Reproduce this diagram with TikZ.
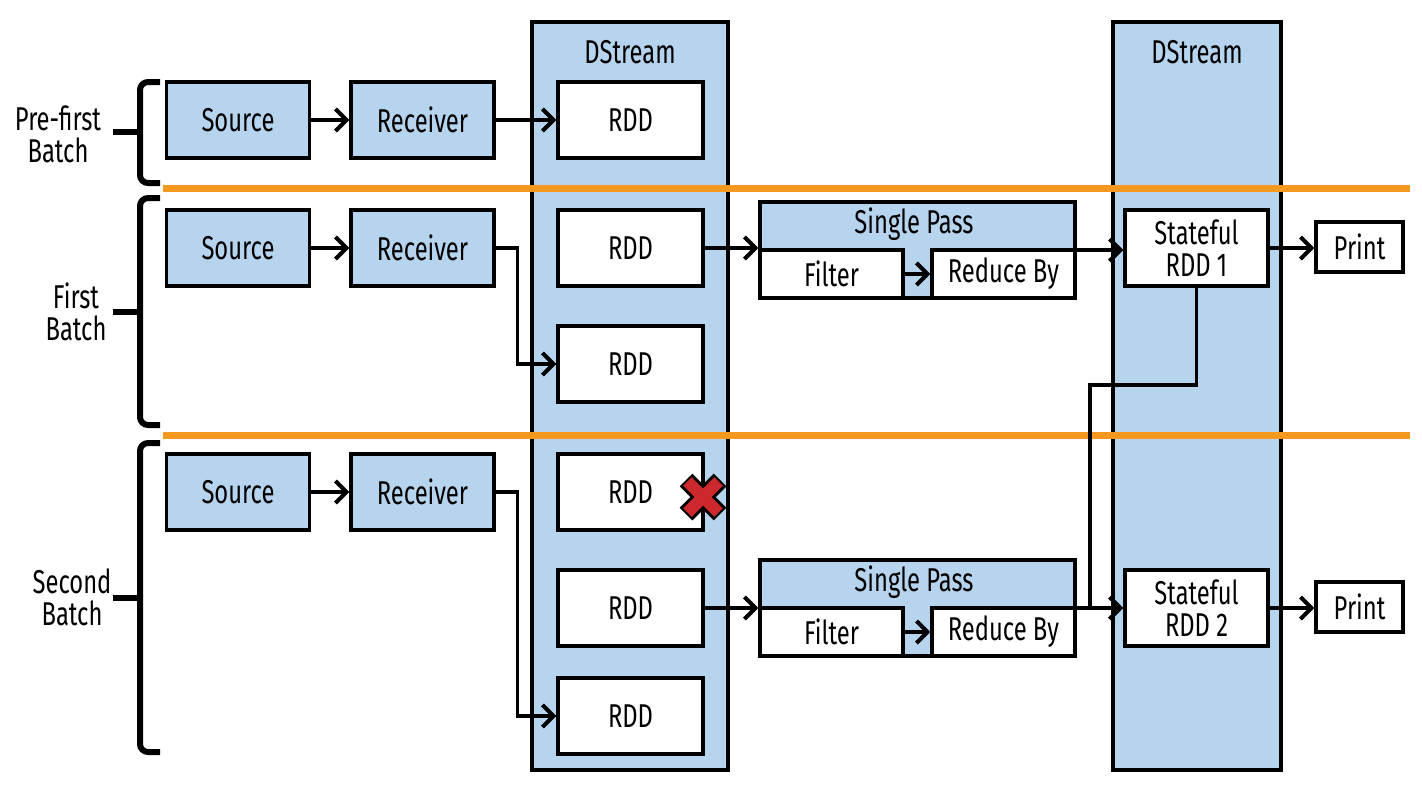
\documentclass[tikz,border=0pt]{standalone}
\usepackage{fontspec}
\setmainfont{Fira Sans}[FakeStretch=0.72]
\usetikzlibrary{arrows.meta}
\definecolor{sblue}{RGB}{182,212,238}
\definecolor{sorange}{RGB}{245,152,32}
\definecolor{sred}{RGB}{205,40,45}
\begin{document}
\begin{tikzpicture}[x=0.5pt,y=-0.5pt,
  every node/.style={font=\fontsize{16.5}{16}\selectfont, inner sep=0pt, align=center},
  bbox/.style={draw, line width=1.7pt, fill=sblue, minimum width=71.5pt, minimum height=38pt},
  wbox/.style={draw, line width=1.7pt, fill=white, minimum width=72.5pt, minimum height=38pt},
  colbox/.style={draw, line width=1.6pt, fill=sblue},
  passbox/.style={draw, line width=1.7pt, fill=sblue, minimum width=157.5pt, minimum height=48pt},
  inbox/.style={draw, line width=1.7pt, fill=white, minimum width=71.5pt, minimum height=24pt},
  prbox/.style={draw, line width=1.7pt, fill=white, minimum width=43.5pt, minimum height=25pt},
  conn/.style={line width=1.6pt, -{Straight Barb[length=5.5pt,width=11pt,line width=2pt]}},
  plain/.style={line width=1.6pt},
  brace/.style={line width=3pt, rounded corners=4pt},
  sep/.style={line width=3.5pt, sorange}]
\useasboundingbox (0,0) rectangle (1422,788);
% columns
\draw[colbox] (532,22) rectangle (728,770);
\draw[colbox] (1113,22) rectangle (1281,770);
\node (ds1) at (630,52) {DStream};
\node (ds2) at (1197,52) {DStream};
% orange separators
\draw[sep] (163,188) -- (1410,188);
\draw[sep] (163,435) -- (1410,435);
% braces
\draw[brace] (160,82) -- (140,82) -- (140,183) -- (160,183);
\draw[brace] (140,132) -- (113,132);
\draw[brace] (160,198) -- (140,198) -- (140,425) -- (160,425);
\draw[brace] (140,312) -- (113,312);
\draw[brace] (160,443) -- (140,443) -- (140,752) -- (160,752);
\draw[brace] (140,598) -- (113,598);
\node (lb1) at (58,134) {Pre-first\\Batch};
\node (lb2) at (76,312) {First\\Batch};
\node (lb3) at (72,597) {Second\\Batch};
% row 1
\node[bbox] (src1) at (238,120) {Source};
\node[bbox] (rcv1) at (422.5,120) {Receiver};
\node[wbox] (rdd1) at (630.5,120) {RDD};
% row 2
\node[bbox] (src2) at (238,248) {Source};
\node[bbox] (rcv2) at (422.5,248) {Receiver};
\node[wbox] (rdd2) at (630.5,248) {RDD};
\node[wbox] (rdd3) at (630.5,364) {RDD};
\node[passbox] (sp1) at (917.5,250) {};
\node (sp1t) at (914,224) {Single Pass};
\node[inbox] (fl1) at (831.5,274) {Filter};
\node[inbox] (rb1) at (1003.5,274) {Reduce By};
\node[wbox, minimum width=71.5pt] (st1) at (1196.5,248) {Stateful\\RDD 1};
\node[prbox] (pr1) at (1359.5,247) {Print};
% row 3
\node[bbox] (src3) at (238,492) {Source};
\node[bbox] (rcv3) at (422.5,492) {Receiver};
\node[wbox] (rdd4) at (630.5,492) {RDD};
\node[wbox] (rdd5) at (630.5,608) {RDD};
\node[wbox] (rdd6) at (630.5,716) {RDD};
\node[passbox] (sp2) at (917.5,608) {};
\node (sp2t) at (914,582) {Single Pass};
\node[inbox] (fl2) at (831.5,632) {Filter};
\node[inbox] (rb2) at (1003.5,632) {Reduce By};
\node[wbox, minimum width=71.5pt] (st2) at (1196.5,608) {Stateful\\RDD 2};
\node[prbox] (pr2) at (1359.5,607) {Print};
% connectors
\draw[conn] (src1) -- (rcv1);
\draw[conn] (rcv1) -- (rdd1);
\draw[conn] (src2) -- (rcv2);
\draw[conn] (rcv2.east) -- ++(22,0) |- (rdd3.west);
\draw[conn] (rdd2.east) -- (rdd2.east -| sp1.west);
\draw[conn] (fl1.east) -- (rb1.west);
\draw[conn] (sp1.east) -- (sp1.east -| st1.west);
\draw[conn] (st1.east) -- (st1.east -| pr1.west);
\draw[conn] (src3) -- (rcv3);
\draw[conn] (rcv3.east) -- ++(22,0) |- (rdd6.west);
\draw[conn] (rdd5.east) -- (rdd5.east -| sp2.west);
\draw[conn] (fl2.east) -- (rb2.west);
\draw[conn] (sp2.east) -- (sp2.east -| st2.west);
\draw[conn] (st2.east) -- (st2.east -| pr2.west);
\coordinate (j1) at (1090,385);
\coordinate (j2) at (1090,608);
\draw[plain] (st1.south) |- (j1) -- (j2);
% red cross
\coordinate (xc) at (703,497);
\draw[line width=9pt, black] ([shift={(-17,-17)}]xc) -- ([shift={(17,17)}]xc);
\draw[line width=9pt, black] ([shift={(-17,17)}]xc) -- ([shift={(17,-17)}]xc);
\draw[line width=6pt, sred, shorten <=1pt, shorten >=1pt] ([shift={(-17,-17)}]xc) -- ([shift={(17,17)}]xc);
\draw[line width=6pt, sred, shorten <=1pt, shorten >=1pt] ([shift={(-17,17)}]xc) -- ([shift={(17,-17)}]xc);
\end{tikzpicture}
\end{document}
